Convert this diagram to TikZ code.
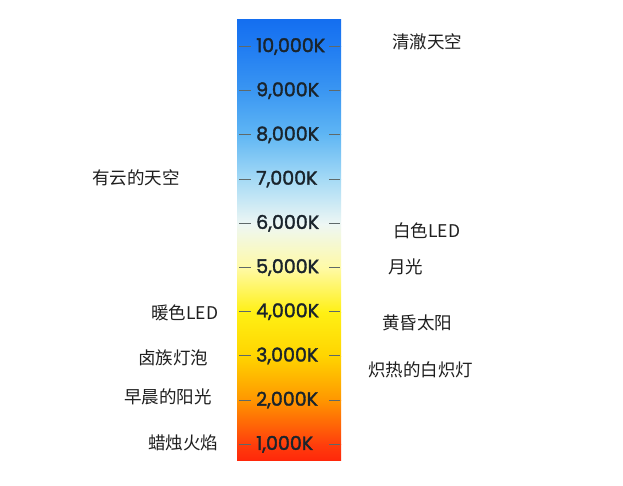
\documentclass[tikz,border=0pt]{standalone}
\usepackage{fontspec}
\newfontfamily\cjk{Noto Sans CJK SC}
\newfontfamily\numfont[FakeBold=1.8]{Poppins}
\definecolor{c0}{RGB}{20,110,240}
\definecolor{c1}{RGB}{32,124,242}
\definecolor{c2}{RGB}{58,150,242}
\definecolor{c3}{RGB}{95,182,244}
\definecolor{c4}{RGB}{165,218,245}
\definecolor{c5}{RGB}{238,247,244}
\definecolor{c6}{RGB}{255,250,165}
\definecolor{c7}{RGB}{255,240,20}
\definecolor{c8}{RGB}{255,212,0}
\definecolor{c9}{RGB}{255,150,0}
\definecolor{c10}{RGB}{255,62,12}
\definecolor{c11}{RGB}{255,40,10}
\definecolor{labtext}{RGB}{26,36,44}
\definecolor{tickc}{RGB}{95,105,105}
\begin{document}
\begin{tikzpicture}[x=1pt,y=-1pt,
  klab/.style={anchor=west,inner sep=0pt,text=labtext,font=\numfont\fontsize{19}{19}\selectfont},
  cn/.style={inner sep=0pt,text=black!88,font=\cjk\fontsize{17.5}{18}\selectfont},
  tk/.style={draw=tickc,line width=1pt}]
\useasboundingbox (0,0) rectangle (623,485);
\fill[white] (0,0) rectangle (623,485);
% gradient bar
\shade[top color=c0,bottom color=c1] (237,19) rectangle (341,46.5);
\shade[top color=c1,bottom color=c2] (237,46) rectangle (341,90.5);
\shade[top color=c2,bottom color=c3] (237,90) rectangle (341,134.5);
\shade[top color=c3,bottom color=c4] (237,134) rectangle (341,179.5);
\shade[top color=c4,bottom color=c5] (237,179) rectangle (341,224.5);
\shade[top color=c5,bottom color=c6] (237,224) rectangle (341,268.5);
\shade[top color=c6,bottom color=c7] (237,268) rectangle (341,312.5);
\shade[top color=c7,bottom color=c8] (237,312) rectangle (341,356.5);
\shade[top color=c8,bottom color=c9] (237,356) rectangle (341,400.5);
\shade[top color=c9,bottom color=c10] (237,400) rectangle (341,444.5);
\shade[top color=c10,bottom color=c11] (237,444) rectangle (341,460);
% ticks and K labels
\foreach \v/\t [count=\i from 0] in {10/{10,000K},9/{9,000K},8/{8,000K},7/{7,000K},6/{6,000K},5/{5,000K},4/{4,000K},3/{3,000K},2/{2,000K},1/{1,000K}}{
  \pgfmathsetmacro{\yy}{46.5+44.2*\i}
  \node[klab] (k\v) at (256,\yy) {\t};
  \draw[tk] (239,\yy) -- (251,\yy);
  \draw[tk] (329,\yy) -- (340,\yy);
}
% Chinese labels
\node[cn,anchor=west] (a) at (392,42) {清澈天空};
\node[cn,anchor=west] (b) at (92,178) {有云的天空};
\node[cn,anchor=west] (c) at (393,231) {白色LED};
\node[cn,anchor=west] (d) at (388,267) {月光};
\node[cn,anchor=west] (e) at (151,313) {暖色LED};
\node[cn,anchor=west] (f) at (382,323) {黄昏太阳};
\node[cn,anchor=west] (g) at (138,358) {卤族灯泡};
\node[cn,anchor=west] (h) at (368,370) {炽热的白炽灯};
\node[cn,anchor=west] (i) at (124,397) {早晨的阳光};
\node[cn,anchor=west] (j) at (148,443) {蜡烛火焰};
\end{tikzpicture}
\end{document}
